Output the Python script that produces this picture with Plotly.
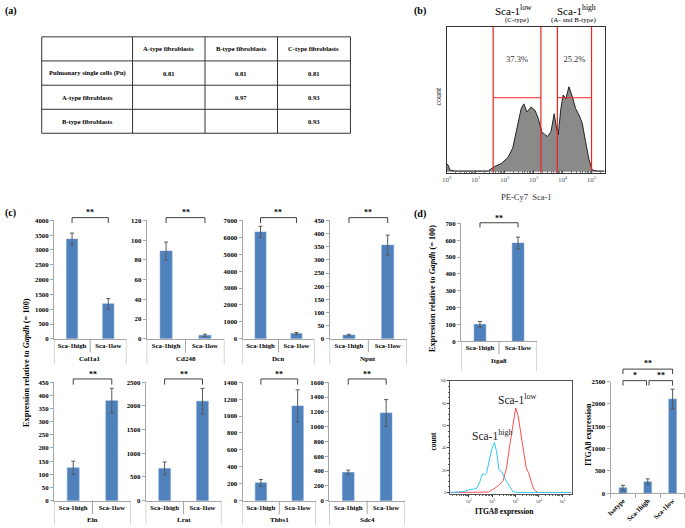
import plotly.graph_objects as go

W, H = 685, 528
SERIF = "Liberation Serif, Times New Roman, serif"
BAR_BLUE = "#4F81BD"
AXC = "#a6a6a6"
ERRC = "#595959"


def px(x):
    return x / W


def py(y):
    return 1 - y / H


# ---------------- DATA ----------------
# (a) correlation table
table_header = ["", "A-type fibroblasts", "B-type fibroblasts", "C-type fibroblasts"]
table_rows = ["Pulmonary single cells (Pu)", "A-type fibroblasts", "B-type fibroblasts"]
corr_a = ["0.81", "", ""]
corr_b = ["0.81", "0.97", ""]
corr_c = ["0.81", "0.93", "0.93"]

# (b) Sca-1 flow histogram (x in log10 units of PE-Cy7 intensity)
sca1_log = [0.0, 0.05, 0.11, 0.28, 1.43, 1.65, 1.88, 2.11, 2.28, 2.45, 2.57, 2.66, 2.77,
            2.91, 3.05, 3.16, 3.28, 3.37, 3.48, 3.60, 3.71, 3.79, 3.85, 3.94, 4.02, 4.11,
            4.22, 4.34, 4.45, 4.57, 4.68, 4.79, 4.91, 5.02, 5.2, 5.45]
sca1_count = [5.5, 4.5, 1.1, 0.5, 0.5, 3.6, 5.6, 9.7, 16.4, 31, 43.5, 46.8, 41.2,
              44.6, 42.3, 36.7, 27.7, 25.9, 24.3, 27.7, 40, 30, 25.5, 43.5, 52.9, 50.2,
              58.6, 51.4, 43.5, 39, 33.3, 21, 8.6, 1.1, 0.5, 0.5]
gate_low = [40, 1780]
gate_high = [6600, 100000]
gate_level = 51
gate_pct = ["37.3%", "25.2%"]

# (c) qPCR bar charts
groups = ["Sca-1high", "Sca-1low"]
genes_c = ["Col1a1", "Cd248", "Dcn", "Npnt", "Eln", "Lrat", "Thbs1", "Sdc4"]
mean_high = [3370, 89, 6320, 14, 125, 680, 210, 382]
mean_low = [1180, 3.5, 310, 356, 380, 2100, 1120, 1185]
err_high = [200, 9, 330, 3, 25, 135, 40, 30]
err_low = [180, 1.2, 60, 38, 47, 270, 190, 180]
ymax_c = [4000, 120, 7000, 450, 450, 2500, 1400, 1600]
dtick_c = [500, 20, 1000, 50, 50, 500, 200, 200]

# (d) Itga8 qPCR
itga8_gene = "Itga8"
itga8_mean = [100, 583]
itga8_err = [17, 35]

# (d) ITGA8 flow histograms (x in log10 units)
hi_log = [0.2, 0.30, 0.79, 1.0, 1.21, 1.35, 1.49, 1.59, 1.67, 1.77, 1.87, 1.98, 2.10,
          2.19, 2.29, 2.41, 2.52, 2.62, 2.76, 2.90, 3.11, 5.4]
hi_count = [0, 0, 0.9, 2.4, 3, 3.8, 10.3, 16.8, 15.6, 17.7, 28, 38.3, 44.8,
            36.9, 20.6, 18.6, 13.3, 9.7, 4.4, 0.6, 0, 0]
lo_log = [0.2, 1.56, 1.84, 2.12, 2.33, 2.48, 2.62, 2.76, 2.90, 3.01, 3.11, 3.22, 3.32,
          3.46, 3.56, 3.67, 3.78, 3.95, 5.4]
lo_count = [0, 0, 0.3, 3.8, 7.4, 10.9, 22.1, 42.8, 63.4, 75.8, 69.3, 54.6, 39.8,
            22.1, 17.7, 10.3, 2.9, 0, 0]

# (d) ITGA8 expression by flow
flow_groups = ["Isotype", "Sca-1high", "Sca-1low"]
flow_mean = [120, 255, 2110]
flow_err = [55, 65, 220]

# ---------------- FIGURE ----------------
fig = go.Figure()
axes = {}
shapes = []
annos = []


def names(n):
    s = "" if n == 1 else str(n)
    return "x" + s, "y" + s, "xaxis" + s, "yaxis" + s


def bold(size, color="black"):
    return dict(family=SERIF, size=size, color=color, weight="bold")


def text(x, y, t, size=8, weight="normal", color="black", angle=0, xref="paper", yref="paper"):
    annos.append(dict(x=x, y=y, xref=xref, yref=yref, text=t, showarrow=False,
                      textangle=angle, xanchor="center", yanchor="middle",
                      font=dict(family=SERIF, size=size, color=color, weight=weight)))


def line(xref, x0, x1, y0, y1, color="#404040", width=1, yref="paper"):
    shapes.append(dict(type="line", xref=xref, yref=yref, x0=x0, x1=x1,
                       y0=y0, y1=y1, line=dict(color=color, width=width)))


def bracket(xr, a, b, ytop, ybot, label, ylab, size=8):
    line(xr, a, a, py(ybot), py(ytop))
    line(xr, a, b, py(ytop), py(ytop))
    line(xr, b, b, py(ytop), py(ybot))
    text(a + (b - a) / 2, py(ylab), label, size=size, weight="bold", xref=xr)


# (a) table drawn as a grid of cells
col_edges = [37, 128.5, 201.5, 274.5, 348]
row_edges = [33.3, 57.7, 82.3, 106.7, 131]
table_cols = [[table_header[0]] + table_rows,
              [table_header[1]] + corr_a,
              [table_header[2]] + corr_b,
              [table_header[3]] + corr_c]
for xe in col_edges:
    line("paper", px(xe), px(xe), py(row_edges[0]), py(row_edges[-1]), color="#333333")
for ye in row_edges:
    line("paper", px(col_edges[0]), px(col_edges[-1]), py(ye), py(ye), color="#333333")
for ci, col in enumerate(table_cols):
    for ri, val in enumerate(col):
        if val:
            text(px((col_edges[ci] + col_edges[ci + 1]) / 2),
                 py((row_edges[ri] + row_edges[ri + 1]) / 2), val, size=6.6, weight="bold")

# (b) Sca-1 flow
xb, yb, xab, yab = names(1)
fig.add_trace(go.Scatter(x=[10 ** v for v in sca1_log], y=sca1_count, xaxis=xb, yaxis=yb,
                         mode="lines", fill="tozeroy", fillcolor="#8a8a8a",
                         line=dict(color="#222222", width=1), showlegend=False))
for g in (gate_low, gate_high):
    for gx in g:
        fig.add_trace(go.Scatter(x=[gx, gx], y=[-1, 101], xaxis=xb, yaxis=yb, mode="lines",
                                 line=dict(color="#ee2222", width=1.2), showlegend=False))
    fig.add_trace(go.Scatter(x=g, y=[gate_level, gate_level], xaxis=xb, yaxis=yb, mode="lines",
                             line=dict(color="#ee2222", width=1.2), showlegend=False))
fig.add_trace(go.Scatter(x=[(gate_low[0] * gate_low[1]) ** 0.5, (gate_high[0] * gate_high[1]) ** 0.5],
                         y=[77, 77], text=gate_pct, mode="text", xaxis=xb, yaxis=yb,
                         textfont=dict(family=SERIF, size=8.5, color="#333333"), showlegend=False))
axes[xab] = dict(domain=[px(445), px(604)], anchor=yb, type="log", range=[0, 5.45],
                 tickvals=[1, 10, 100, 1000, 10000, 100000],
                 ticktext=["10<sup>%d</sup>" % i for i in range(6)],
                 tickfont=dict(family=SERIF, size=7, color="#555555"),
                 ticks="inside", ticklen=3, tickcolor="#555555",
                 minor=dict(ticks="inside", ticklen=1.5, tickcolor="#777777", dtick="D1"),
                 showline=True, mirror=True, linecolor="#333333", linewidth=1,
                 showgrid=False, zeroline=False)
axes[yab] = dict(domain=[py(171), py(23)], anchor=xb, range=[-0.7, 100],
                 showticklabels=False, ticks="", showline=True, mirror=True,
                 linecolor="#333333", linewidth=1, showgrid=False, zeroline=False)
text(px(512), py(6), "Sca-1<sup>low</sup>", size=11)
text(px(516), py(16), "(C-type)", size=7)
text(px(576), py(6), "Sca-1<sup>high</sup>", size=11)
text(px(573), py(16), "(A- and B-type)", size=7)
text(px(437), py(93), "count", size=8, angle=-90, color="#333333")
text(px(525), py(196), "PE-Cy7  Sca-1", size=8.5, color="#333333")

# (c) bar charts
c_x = [(49.3, 122.3), (142.7, 221), (239.3, 311.7), (327, 405),
       (49.3, 127), (141.7, 218), (239.3, 313.3), (326.7, 403)]
c_rows = [(219.3, 339.3)] * 4 + [(383.3, 503.3)] * 4


def bar_chart(n, cats, means, errs, xr_px, yr_px, ymax, dtick, gene, mid_end, out_end,
              gene_y, br=None, tickangle=0, boundary_ticks=False):
    xn, yn, xa, ya = names(n)
    fig.add_trace(go.Bar(x=cats, y=means, xaxis=xn, yaxis=yn, width=0.31,
                         marker=dict(color=BAR_BLUE, line=dict(color="#6f9bd1", width=0.5)),
                         error_y=dict(type="data", array=errs, color=ERRC, thickness=1, width=2),
                         showlegend=False))
    axes[xa] = dict(domain=[px(xr_px[0]), px(xr_px[1])], anchor=yn, type="category",
                    range=[-0.5, len(cats) - 0.5], showline=True, linecolor=AXC, linewidth=1,
                    tickvals=cats, ticktext=["<b>%s</b>" % c for c in cats],
                    tickfont=bold(6.8), tickangle=tickangle, showgrid=False, zeroline=False)
    if boundary_ticks:
        axes[xa].update(tickson="boundaries", ticks="outside", ticklen=4, tickcolor=AXC)
    else:
        axes[xa].update(ticks="")
    yt = list(range(0, ymax + 1, dtick))
    axes[ya] = dict(domain=[py(yr_px[1]), py(yr_px[0])], anchor=xn, range=[0, ymax],
                    tickvals=yt, ticktext=["<b>%d</b>" % v for v in yt],
                    showline=True, linecolor=AXC, linewidth=1, ticks="outside", ticklen=3,
                    tickcolor=AXC, tickfont=bold(6.8), showgrid=False, zeroline=False)
    if gene is not None:
        for k in range(len(cats) + 1):
            end = out_end if k in (0, len(cats)) else mid_end
            line(xn, k - 0.5, k - 0.5, py(yr_px[1]), py(end), color=AXC)
        text((len(cats) - 1) / 2, py(gene_y), gene, size=7, weight="bold", xref=xn)
    if br is not None:
        bracket(xn, 0, len(cats) - 1, br[0], br[1], "**", br[2])


for i, g in enumerate(genes_c):
    row2 = i >= 4
    bar_chart(2 + i, groups, [mean_high[i], mean_low[i]], [err_high[i], err_low[i]],
              c_x[i], c_rows[i], ymax_c[i], dtick_c[i], g,
              mid_end=(517 if row2 else 353), out_end=(528 if row2 else 365),
              gene_y=(523.3 if row2 else 360),
              br=((380, 385.7, 375.5) if row2 else (216.5, 222, 211.8)))

text(px(21), py(363), "Expression relative to <i>Gapdh</i> (= 100)", size=8.3, weight="bold", angle=-90)

# (d) Itga8 bar chart
bar_chart(10, groups, itga8_mean, itga8_err, (459.3, 536), (222.3, 341.7), 700, 100, itga8_gene,
          mid_end=355, out_end=372, gene_y=362, br=(221.7, 226.5, 217))
text(px(430), py(288), "Expression relative to <i>Gapdh</i> (= 100)", size=8.2, weight="bold", angle=-90)

# (d) ITGA8 flow
xf, yf, xaf, yaf = names(11)
fig.add_trace(go.Scatter(x=[10 ** v for v in lo_log], y=lo_count, xaxis=xf, yaxis=yf, mode="lines",
                         line=dict(color="#ff4d4d", width=1), showlegend=False))
fig.add_trace(go.Scatter(x=[10 ** v for v in hi_log], y=hi_count, xaxis=xf, yaxis=yf, mode="lines",
                         line=dict(color="#33c8f5", width=1), showlegend=False))
axes[xaf] = dict(domain=[px(448.3), px(570.7)], anchor=yf, type="log", range=[0.2, 5.4],
                 tickvals=[10, 100, 1000, 10000, 100000],
                 ticktext=["10<sup>%d</sup>" % i for i in range(1, 6)],
                 tickfont=dict(family=SERIF, size=4.5, color="#333333"),
                 ticks="outside", ticklen=2, tickcolor="#333333",
                 minor=dict(ticks="outside", ticklen=1, tickcolor="#666666", dtick="D1"),
                 showline=True, mirror=True, linecolor="#555555", linewidth=1,
                 showgrid=False, zeroline=False)
axes[yaf] = dict(domain=[py(496.7), py(381.7)], anchor=xf, range=[-1.5, 100.3],
                 tickvals=[0, 20, 40, 60, 80, 100],
                 tickfont=dict(family=SERIF, size=4, color="#333333"),
                 ticks="outside", ticklen=2, tickcolor="#333333",
                 minor=dict(ticks="outside", ticklen=1, tickcolor="#666666", dtick=5),
                 showline=True, mirror=True, linecolor="#555555", linewidth=1,
                 showgrid=False, zeroline=False)
text(px(516), py(400), "Sca-1<sup>low</sup>", size=11.5, color="#222222")
text(px(491), py(436.7), "Sca-1<sup>high</sup>", size=11.5, color="#222222")
text(px(431.5), py(443), "count", size=7.5, weight="bold", angle=-90)
text(px(503), py(514), "ITGA8 expression", size=7.5, weight="bold")

# (d) ITGA8 expression bars
bar_chart(12, flow_groups, flow_mean, flow_err, (610, 685), (382.7, 495.7), 2500, 500, None,
          mid_end=None, out_end=None, gene_y=None, tickangle=-45, boundary_ticks=True)
bracket("x12", 0, 2, 370, 375, "**", 364)
bracket("x12", 0, 0.95, 381.7, 386.7, "*", 376)
bracket("x12", 1.05, 2, 381.7, 386.7, "**", 376)
text(px(588), py(436), "ITGA8 expression", size=8, weight="bold", angle=-90)

# panel labels
for lab, lx, ly in [("(a)", 6, 7), ("(b)", 418, 7), ("(c)", 6, 211.7), ("(d)", 418, 213.3)]:
    text(px(lx), py(ly), lab, size=10, weight="bold")

fig.update_layout(width=W, height=H, margin=dict(l=0, r=0, t=0, b=0),
                  paper_bgcolor="white", plot_bgcolor="white",
                  shapes=shapes, annotations=annos, showlegend=False, **axes)
fig.write_html("out.html", config={"displayModeBar": False},
               post_script="document.body.style.margin='0px';document.body.style.overflow='hidden';")
